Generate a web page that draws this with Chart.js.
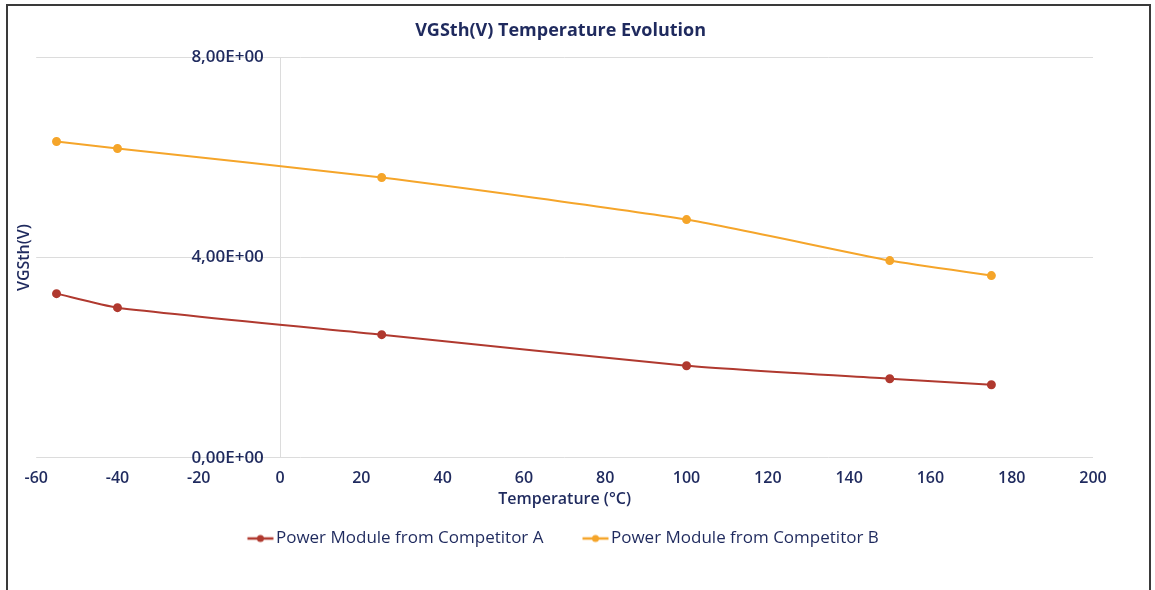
<!DOCTYPE html>
<html>
<head>
<meta charset="utf-8">
<script src="https://cdn.jsdelivr.net/npm/chart.js@4"></script>
<style>
  html, body { margin: 0; padding: 0; background: #fff; overflow: hidden; }
  #frame { position: absolute; left: 6px; top: 4px; width: 1141px; height: 600px; border: 2px solid #3a3a3a; }
</style>
</head>
<body>
<div id="frame"><canvas id="vgsChart" width="1141" height="584"></canvas></div>
<script>
const temperatures = [-55, -40, 25, 100, 150, 175];
const competitorA = [3.28, 3.0, 2.46, 1.84, 1.58, 1.46];
const competitorB = [6.32, 6.18, 5.6, 4.76, 3.94, 3.64];
const seriesNames = ['Power Module from Competitor A', 'Power Module from Competitor B'];
const yTickLabels = ['0,00E+00', '4,00E+00', '8,00E+00'];

const navy = '#1f2a5e';
const red = '#b0392f';
const orange = '#f5a52a';
const gridGray = '#dcdcdc';
const family = '"Open Sans", sans-serif';

// legend marker: short line with a dot in the middle
function legendMarker(color) {
  const c = document.createElement('canvas');
  c.width = 70; c.height = 10;
  const g = c.getContext('2d');
  g.strokeStyle = color;
  g.lineWidth = 2.5;
  g.beginPath(); g.moveTo(39.5, 5); g.lineTo(65.5, 5); g.stroke();
  g.fillStyle = color;
  g.beginPath(); g.arc(52.5, 5, 3.5, 0, Math.PI * 2); g.fill();
  return c;
}
const markers = [legendMarker(red), legendMarker(orange)];

const toPoints = vals => vals.map((v, i) => ({ x: temperatures[i], y: v }));

// nudge legend and title a bit to the left so they sit like the original
const nudge = {
  id: 'nudge',
  afterLayout(chart) {
    chart.legend.left -= 16;
    chart.legend.right -= 16;
    chart.titleBlock.left -= 4;
    chart.titleBlock.right -= 4;
  }
};

const lineStyle = color => ({
  borderColor: color,
  backgroundColor: color,
  borderWidth: 2,
  pointRadius: 3.5,
  tension: 0.2,
  yAxisID: 'y'
});

new Chart(document.getElementById('vgsChart'), {
  type: 'line',
  data: {
    datasets: [
      { label: seriesNames[0], data: toPoints(competitorA), ...lineStyle(red) },
      { label: seriesNames[1], data: toPoints(competitorB), ...lineStyle(orange) }
    ]
  },
  options: {
    responsive: false,
    animation: false,
    layout: { padding: { left: 1, right: 56, top: 6, bottom: 33 } },
    scales: {
      x: {
        type: 'linear',
        min: -60,
        max: 200,
        ticks: { stepSize: 20, padding: 11, color: navy, font: { family, size: 16, weight: '600' } },
        grid: { display: false, drawTicks: false },
        border: { display: false },
        title: {
          display: true, text: 'Temperature (°C)', color: navy,
          font: { family, size: 16, weight: '600' }, padding: { top: -9.6, bottom: 11.4 }
        }
      },
      // vertical axis line at 0 °C plus horizontal grid
      y: {
        type: 'linear',
        position: { x: 0 },
        min: 0,
        max: 8,
        ticks: { stepSize: 4, display: false },
        grid: { color: gridGray, drawTicks: false },
        border: { display: true, color: gridGray }
      },
      // tick labels, drawn just left of the 0 °C line
      yLabels: {
        type: 'linear',
        position: { x: -4 },
        min: 0,
        max: 8,
        ticks: {
          stepSize: 4, color: navy,
          font: { family, size: 17, weight: '600' },
          callback: (v, i) => yTickLabels[i]
        },
        grid: { display: false, drawTicks: false },
        border: { display: false }
      },
      yTitle: {
        type: 'linear',
        position: 'left',
        display: true,
        min: 0,
        max: 8,
        ticks: { display: false },
        grid: { display: false, drawTicks: false },
        border: { display: false },
        title: {
          display: true, text: 'VGSth(V)', color: navy,
          font: { family, size: 16, weight: '600' }, padding: { top: 6, bottom: 2 }
        }
      }
    },
    plugins: {
      title: {
        display: true,
        text: 'VGSth(V) Temperature Evolution',
        color: navy,
        fullSize: false,
        font: { family, size: 18, weight: 'bold' },
        padding: { top: 8.2, bottom: 15.6 }
      },
      legend: {
        position: 'bottom',
        fullSize: false,
        labels: {
          usePointStyle: true,
          pointStyleWidth: 49,
          padding: 10,
          color: navy,
          font: { family, size: 17, weight: '500' },
          generateLabels: chart => Chart.defaults.plugins.legend.labels.generateLabels(chart)
            .map((item, i) => ({ ...item, pointStyle: markers[i] }))
        }
      },
      tooltip: { enabled: false }
    }
  },
  plugins: [nudge]
});
</script>
</body>
</html>
